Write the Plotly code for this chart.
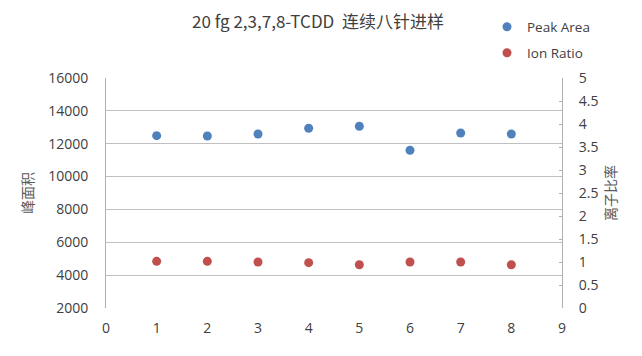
import plotly.graph_objects as go

injections = [1, 2, 3, 4, 5, 6, 7, 8]
peak_area = [12490, 12470, 12590, 12940, 13060, 11600, 12650, 12590]
ion_ratio = [1.015, 1.015, 1.0, 0.985, 0.94, 1.0, 1.0, 0.94]
left_ticks = [2000, 4000, 6000, 8000, 10000, 12000, 14000, 16000]
right_ticks = [0, 0.5, 1, 1.5, 2, 2.5, 3, 3.5, 4, 4.5, 5]
x_ticks = list(range(0, 10))

FONT = "Open Sans, Noto Sans CJK SC, sans-serif"
CJK = "Noto Sans CJK SC, sans-serif"

fig = go.Figure()
fig.add_trace(go.Scatter(x=injections, y=peak_area, mode="markers", name="Peak Area",
                         marker=dict(color="#4F81BD", size=9), legend="legend"))
fig.add_trace(go.Scatter(x=injections, y=ion_ratio, mode="markers", name="Ion Ratio",
                         marker=dict(color="#C0504D", size=9), yaxis="y2", legend="legend2"))

W, H = 642, 356
L, R, T, B = 106, 80, 78, 48
pw, ph = W - L - R, H - T - B

def px2paper(x, y):
    return (x - L) / pw, (H - B - y) / ph

lx1, ly1 = px2paper(487, 27)
lx2, ly2 = px2paper(487, 53)

fig.update_layout(
    width=W, height=H,
    margin=dict(l=L, r=R, t=T, b=B, pad=0),
    paper_bgcolor="white", plot_bgcolor="white",
    font=dict(family=FONT, size=14, color="#404040"),
    title=dict(text="20 fg 2,3,7,8-TCDD  连续八针进样", x=318 / W, xanchor="center",
               y=1 - 22 / H, yanchor="middle",
               font=dict(family=CJK, size=17, color="#404040")),
    xaxis=dict(range=[0, 9], tickvals=x_ticks, showgrid=False, zeroline=False,
               showline=False, ticks="", ticklabelstandoff=10,
               tickfont=dict(size=14, color="#404040")),
    yaxis=dict(range=[2000, 16000], tickvals=left_ticks, tickformat="d", showgrid=True,
               gridcolor="#C0C0C0", gridwidth=1, zeroline=False,
               showline=True, linecolor="#B0B0B0", linewidth=1, ticks="",
               ticklabelstandoff=14,
               title=dict(text="峰面积", font=dict(family=CJK, size=14, color="#595959"), standoff=11),
               tickfont=dict(size=14, color="#404040")),
    yaxis2=dict(range=[0, 5], tickvals=right_ticks, overlaying="y", side="right",
                showgrid=False, zeroline=False, showline=True, linecolor="#B0B0B0",
                linewidth=1, ticks="inside", ticklen=3, tickcolor="#B0B0B0",
                ticklabelstandoff=13,
                title=dict(text="离子比率", font=dict(family=CJK, size=14, color="#595959"), standoff=8),
                tickfont=dict(size=14, color="#404040")),
    legend=dict(x=lx1, y=ly1, xanchor="left", yanchor="middle", bgcolor="rgba(0,0,0,0)",
                font=dict(size=13.5, color="#404040"), itemwidth=30),
    legend2=dict(x=lx2, y=ly2, xanchor="left", yanchor="middle", bgcolor="rgba(0,0,0,0)",
                 font=dict(size=13.5, color="#404040"), itemwidth=30),
    showlegend=True,
)

fig.write_html("out.html")
